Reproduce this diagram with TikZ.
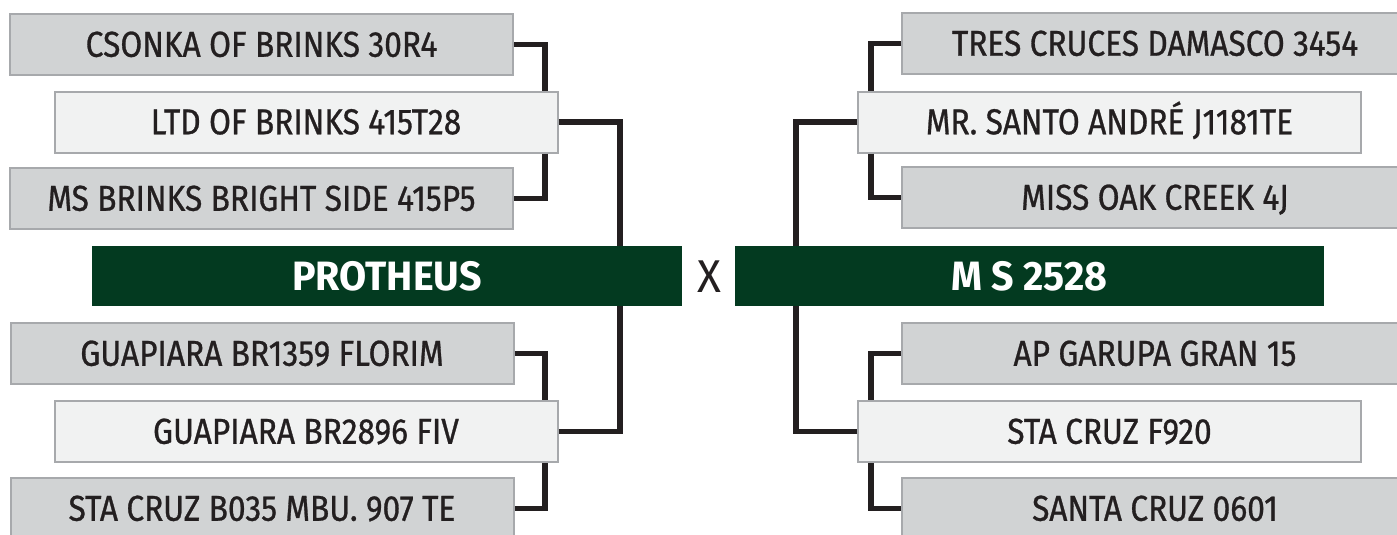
\documentclass[tikz,border=0pt]{standalone}
\usepackage{fontspec}
\setmainfont{Fira Sans}[FakeStretch=0.88, FakeBold=0.8]
\newfontfamily\mainf{Fira Sans}[FakeStretch=0.96]
\definecolor{gfill}{HTML}{D1D3D4}
\definecolor{lfill}{HTML}{F1F2F2}
\definecolor{bline}{HTML}{A7A9AC}
\definecolor{txt}{HTML}{231F20}
\definecolor{green}{HTML}{033A20}
\tikzset{
  pbox/.style={rectangle, draw=bline, line width=2pt, inner sep=0pt,
    minimum height=61pt, text=txt, text height=24.5pt, text depth=0pt,
    font=\fontsize{36}{36}\selectfont},
  gbox/.style={pbox, fill=gfill, minimum width=503pt},
  lbox/.style={pbox, fill=lfill, minimum width=503pt},
  mainbox/.style={rectangle, fill=green, inner sep=0pt, minimum width=590pt,
    minimum height=60pt, text=white, text height=28pt, text depth=0pt,
    font=\fontsize{41}{41}\mainf\bfseries},
  conn/.style={draw=txt, line width=5.5pt, line join=miter, line cap=butt}
}
\begin{document}
\begin{tikzpicture}[x=1pt,y=-1pt]
\useasboundingbox (0,0) rectangle (1397,535);
\fill[white] (0,0) rectangle (1397,535);
% left
\node[gbox] (L1) at (261.5,44.5) {CSONKA OF BRINKS 30R4};
\node[lbox] (L2) at (306,122) {LTD OF BRINKS 415T28};
\node[gbox] (L3) at (261.5,198.5) {MS BRINKS BRIGHT SIDE 415P5};
\node[mainbox] (P) at (387,276) {PROTHEUS};
\node[gbox] (L4) at (262,353.5) {GUAPIARA BR1359 FLORIM};
\node[lbox] (L5) at (306,431.5) {GUAPIARA BR2896 FIV};
\node[gbox] (L6) at (262,508.5) {STA CRUZ B035 MBU. 907 TE};
% cross
\node[text=txt, font=\fontsize{46}{46}\mainf, inner sep=0pt, text height=32pt, text depth=0pt] (X) at (709,276) {X};
% right
\node[gbox, minimum width=506pt] (R1) at (1155,43.5) {TRES CRUCES DAMASCO 3454};
\node[lbox] (R2) at (1109.5,122) {MR. SANTO ANDRÉ J1181TE};
\node[gbox, minimum width=506pt] (R3) at (1155,197.5) {MISS OAK CREEK 4J};
\node[mainbox, minimum width=589pt] (M) at (1029.5,276) {M S 2528};
\node[gbox, minimum width=506pt] (R4) at (1155,353.5) {AP GARUPA GRAN 15};
\node[lbox] (R5) at (1109.5,431.5) {STA CRUZ F920};
\node[gbox, minimum width=506pt] (R6) at (1155,508.5) {SANTA CRUZ 0601};
% junction columns
\coordinate (jL) at (545,0);
\coordinate (kL) at (620,0);
\coordinate (jR) at (871,0);
\coordinate (kR) at (796,0);
% left connectors
\draw[conn] (L1.east) -| (jL |- L2.north);
\draw[conn] (jL |- L2.south) |- (L3.east);
\draw[conn] (L2.east) -| (kL |- P.north);
\draw[conn] (L4.east) -| (jL |- L5.north);
\draw[conn] (jL |- L5.south) |- (L6.east);
\draw[conn] (L5.east) -| (kL |- P.south);
% right connectors
\draw[conn] (R1.west) -| (jR |- R2.north);
\draw[conn] (jR |- R2.south) |- (R3.west);
\draw[conn] (R2.west) -| (kR |- M.north);
\draw[conn] (R4.west) -| (jR |- R5.north);
\draw[conn] (jR |- R5.south) |- (R6.west);
\draw[conn] (R5.west) -| (kR |- M.south);
\end{tikzpicture}
\end{document}
